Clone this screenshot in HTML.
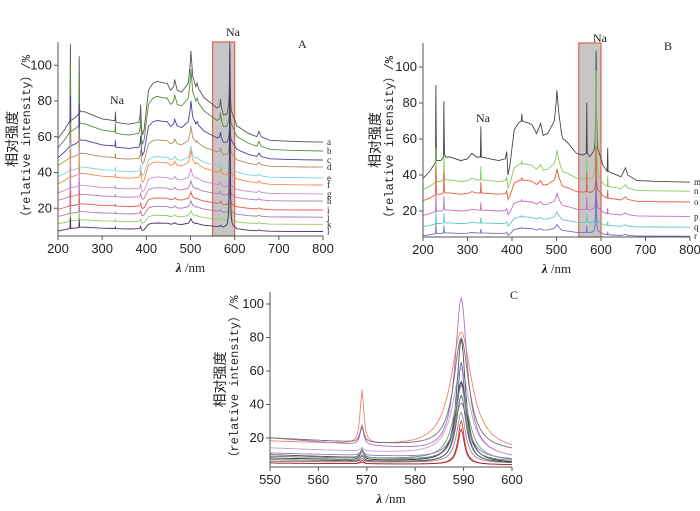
<!DOCTYPE html>
<html><head><meta charset="utf-8"><style>
body{margin:0;background:#fff;width:700px;height:511px;overflow:hidden}
svg{display:block}
text{font-family:"Liberation Sans","Noto Sans CJK SC",sans-serif;fill:#222}
.t{font-size:13px}
.lab{font-family:"Liberation Serif","Noto Serif CJK SC",serif;font-size:12px}
.yl{font-family:"Liberation Mono","Noto Sans CJK SC",monospace;font-size:12px}
</style></head><body>
<svg id="chart" width="700" height="511" viewBox="0 0 700 511"></svg>
<script>
// ---- Panel A data ----
const waveA=[200,215,227,228,229,240,247,248,249,252,260,280,300,329,330,331,360,383,386,387,389,391,395,405,415,425,440,447,455,462,464,470,480,495,499,501,505,512,515,518,530,550,560,566,568,570,575,582,586,595,605,630,650,655,660,680,720,760,800];
const profileA=[59,64,69,112,69,71,73,105,75,74,74,72,70,69,74,68,67,68,72,78,65,61,64,86,90,91,90,90,86,88,92,86,85,90,100,108,94,88,90,87,82,78,76,77,81,76,72,72,74,72,66,62,60,63,60,58,57.5,57.2,57];
const namesA=["a","b","c","d","e","f","g","h","i","j","k","l"];
const offsetsA=[57,52,47,43,37,33,28,24,19,15,11,7];
const scalesA=[1,0.9,0.65,0.45,0.35,0.38,0.28,0.22,0.2,0.18,0.15,0.14];
const naPeaksA=[40,20,15,20,10,16,10,10,10,10,12,100];
const colorsA=["#555555","#5b8a3c","#4b3f94","#a8925e","#86d2d2","#f48a52","#c78ccc","#b978b6","#e8564c","#a878b0","#98c86a","#4a2f5e"];
// ---- Panel B data ----
const waveB=[200,215,228,229,230,240,246,247,248,250,260,285,300,310,320,329,330,331,350,370,385,388,391,395,405,415,421,422,423,435,445,455,462,464,470,480,495,499,501,505,512,515,525,545,560,567,568,569,575,584,595,605,614,615,616,625,645,655,660,680,720,800];
const profileB=[38,42,47,90,48,48,50,81,52,50,50,48,49,52,50,50,67,50,49,48,49,53,40,45,65,69,70,74,70,69,68,63,67,69,62,63,70,80,87,75,62,60,58,52,51,52,80,52,50,52,52,45,42,55,42,41,39,44,40,37,36.5,36];
const namesB=["m","n","o","p","q","r"];
const offsetsB=[36,31,25,17,11,6];
const scalesB=[1,0.45,0.36,0.25,0.17,0.13];
const naPeaksB=[57,60,25,20,15,28];
const colorsB=["#444444","#8cc860","#e85a40","#c070c0","#60c4c4","#7070c4"];
// ---- Panel C data ----
const base550C=[18,20,20,14,10,9,8,6,5,6,11,5,7,9];
const base600C=[12,8,12,8,5,6,5,5,4,5,7,4,5,6];
const bump569C=[32,11,10,2,5,5,5,4,2,2,3,1,3,4];
const peak589C=[70,93,66,52,73,46,48,60,26,30,33,21,40,45];
const widthC=[2.6,1.5,1.9,2.1,1.1,1.8,1.4,1.0,0.8,1.1,1.7,0.8,1.2,1.3];
const colorsC=["#f08070","#b070c0","#707070","#c0a0d0","#505050","#70a080","#333333","#6060b0","#d04040","#909090","#9080b0","#b03030","#606060","#8a8a8a"];

const svg=document.getElementById('chart');
const NS='http://www.w3.org/2000/svg';
function mk(tag,attrs,parent){const e=document.createElementNS(NS,tag);for(const k in attrs)e.setAttribute(k,attrs[k]);(parent||svg).appendChild(e);return e;}
function interp(ws,vs,w){for(let i=0;i<ws.length-1;i++){if(w>=ws[i]&&w<=ws[i+1]){const t=(w-ws[i])/(ws[i+1]-ws[i]);return vs[i]+t*(vs[i+1]-vs[i]);}}return vs[vs.length-1];}
function lor(w,c,g){return 1/(1+((w-c)/g)*((w-c)/g));}

function panel(cfg){
  const g=mk('g',{});
  
  
  const X=v=>cfg.x0+(v-cfg.xmin)/(cfg.xmax-cfg.xmin)*(cfg.x1-cfg.x0);
  const Y=v=>cfg.y0-v*cfg.ky;
  const clipId=cfg.name+'-clip';
  const cp=mk('clipPath',{id:clipId},g);mk('rect',{x:cfg.x0,y:cfg.top,width:cfg.x1-cfg.x0,height:cfg.bottom-cfg.top},cp);
  if(cfg.highlight){
    const r=mk('rect',{x:X(550),y:cfg.top,width:X(600)-X(550),height:cfg.bottom-cfg.top,fill:'#c6c6c6',stroke:'#e8604c','stroke-width':1.2},g);
    
    
  }
  const lines=mk('g',{'clip-path':'url(#'+clipId+')'},g);
  cfg.series.forEach(s=>{
    const pts=s.pts.map(p=>X(p[0]).toFixed(1)+','+Y(p[1]).toFixed(1)).join(' ');
    const pl=mk('polyline',{points:pts,fill:'none',stroke:s.color,'stroke-width':0.9},lines);
    
    
    if(cfg.endLabels){
      const t=mk('text',{x:cfg.x1+4,y:Y(s.pts[s.pts.length-1][1])+3,class:'lab'},g);
      t.style.fontSize='9px';t.textContent=s.label;
      
      
    }
  });
  const ax=mk('line',{x1:cfg.x0,y1:cfg.bottom,x2:cfg.x1,y2:cfg.bottom,stroke:'#555','stroke-width':1},g);
  
  const ay=mk('line',{x1:cfg.x0,y1:cfg.top,x2:cfg.x0,y2:cfg.bottom,stroke:'#555','stroke-width':1},g);
  
  cfg.xticks.forEach(v=>{
    mk('line',{x1:X(v),y1:cfg.bottom,x2:X(v),y2:cfg.bottom+4,stroke:'#555'},g);
    const t=mk('text',{x:X(v),y:cfg.bottom+17,'text-anchor':'middle',class:'t'},g);t.textContent=v;
    
  });
  cfg.yticks.forEach(v=>{
    mk('line',{x1:cfg.x0-4,y1:Y(v),x2:cfg.x0,y2:Y(v),stroke:'#555'},g);
    const t=mk('text',{x:cfg.x0-6,y:Y(v)+4,'text-anchor':'end',class:'t'},g);t.textContent=v;
    
  });
  const xt=mk('text',{x:(cfg.x0+cfg.x1)/2,y:cfg.bottom+36,'text-anchor':'middle',class:'lab'},g);
  xt.style.fontSize='13px';
  xt.innerHTML='<tspan font-style="italic" font-weight="bold">λ</tspan> /nm';
  
  const cy=(cfg.top+cfg.bottom)/2;
  const yt=mk('text',{transform:'translate('+(cfg.x0-cfg.ytOff)+','+cy+') rotate(-90)','text-anchor':'middle',class:'yl'},g);
  yt.innerHTML='<tspan x="0" dy="0" style="font-size:14px">相对强度</tspan><tspan x="0" dy="13">（relative intensity）/%</tspan>';
  
  const pt=mk('text',{x:cfg.pl[0],y:cfg.pl[1],class:'lab'},g);pt.textContent=cfg.panelLabel;
  
  (cfg.na||[]).forEach(n=>{const t=mk('text',{x:n[0],y:n[1],class:'lab'},g);t.textContent='Na';
    });
  return g;
}
function buildSpectra(waves,prof,offs,scs,peaks,names,colors){
  const base=prof[prof.length-1];
  const ws=waves.slice();for(let w=583;w<=596;w+=0.5)ws.push(w);ws.sort((a,b)=>a-b);
  return names.map((n,k)=>({label:n,color:colors[k],pts:ws.map(w=>[w,offs[k]+scs[k]*(interp(waves,prof,w)-base)+peaks[k]*lor(w,589,0.9)])}));
}
panel({name:'panel-a',x0:58,x1:323,xmin:200,xmax:800,y0:244,ky:1.7875,top:42,bottom:236,highlight:true,endLabels:true,ytOff:41,
  xticks:[200,300,400,500,600,700,800],yticks:[20,40,60,80,100],panelLabel:'A',pl:[298,48],na:[[110,104],[226,36]],
  series:buildSpectra(waveA,profileA,offsetsA,scalesA,naPeaksA,namesA,colorsA)});
panel({name:'panel-b',x0:423,x1:690,xmin:200,xmax:800,y0:247,ky:1.8,top:43,bottom:237,highlight:true,endLabels:true,ytOff:43,
  xticks:[200,300,400,500,600,700,800],yticks:[20,40,60,80,100],panelLabel:'B',pl:[664,50],na:[[476,122],[593,42]],
  series:buildSpectra(waveB,profileB,offsetsB,scalesB,naPeaksB,namesB,colorsB)});
const seriesC=colorsC.map((c,k)=>{const pts=[];for(let w=550;w<=600;w+=0.25){
  const b=base550C[k]+(base600C[k]-base550C[k])*(w-550)/50;
  pts.push([w,b+bump569C[k]*lor(w,569,0.45)+peak589C[k]*lor(w,589.5,widthC[k])]);}
  return {label:'c'+(k+1),color:c,pts:pts};});
panel({name:'panel-c',x0:270,x1:512,xmin:550,xmax:600,y0:471.5,ky:1.675,top:292,bottom:467,highlight:false,endLabels:false,ytOff:45,
  xticks:[550,560,570,580,590,600],yticks:[20,40,60,80,100],panelLabel:'C',pl:[510,299],
  series:seriesC});
</script>
</body></html>
